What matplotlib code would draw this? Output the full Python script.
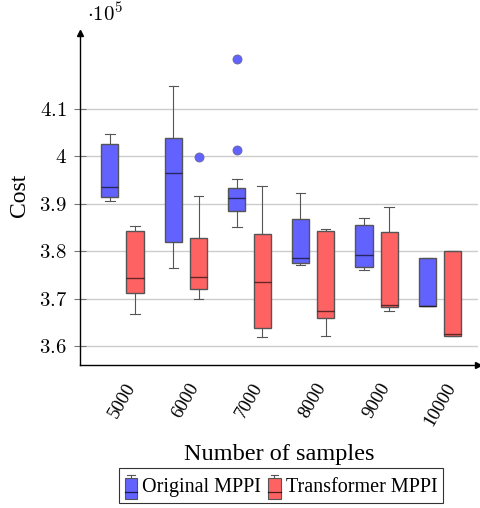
import matplotlib
matplotlib.use('Agg')
import matplotlib.pyplot as plt
import matplotlib.patches as mpatches
from matplotlib.lines import Line2D
from matplotlib.legend_handler import HandlerBase
from matplotlib.ticker import FuncFormatter
import numpy as np

# cost values in units of 1e5
samples = ['5000', '6000', '7000', '8000', '9000', '10000']

orig_lo = [3.905, 3.765, 3.851, 3.771, 3.761, 3.684]
orig_q1 = [3.914, 3.818, 3.885, 3.775, 3.767, 3.684]
orig_med = [3.935, 3.965, 3.911, 3.785, 3.791, 3.684]
orig_q3 = [4.025, 4.038, 3.933, 3.867, 3.855, 3.785]
orig_hi = [4.046, 4.147, 3.952, 3.923, 3.870, 3.785]
orig_fliers = [[], [], [4.012, 4.204], [], [], []]

trans_lo = [3.668, 3.698, 3.618, 3.622, 3.674, 3.621]
trans_q1 = [3.712, 3.721, 3.637, 3.658, 3.683, 3.621]
trans_med = [3.744, 3.745, 3.735, 3.674, 3.687, 3.625]
trans_q3 = [3.842, 3.827, 3.835, 3.843, 3.839, 3.801]
trans_hi = [3.853, 3.916, 3.936, 3.846, 3.893, 3.801]
trans_fliers = [[], [3.997], [], [], [], []]

BLUE = '#6262ff'
RED = '#ff6262'
EDGE = '#555555'

plt.rcParams['mathtext.fontset'] = 'cm'
plt.rcParams['font.family'] = 'Liberation Serif'


def make_stats(lo, q1, med, q3, hi, fliers):
    return [dict(whislo=a, q1=b, med=c, q3=d, whishi=e, fliers=f)
            for a, b, c, d, e, f in zip(lo, q1, med, q3, hi, fliers)]


def draw_boxes(ax, stats, positions, color):
    ax.bxp(stats, positions=positions, widths=0.268, capwidths=0.15,
           patch_artist=True, manage_ticks=False, zorder=3,
           boxprops=dict(facecolor=color, edgecolor=EDGE, linewidth=1.0),
           medianprops=dict(color='black', alpha=0.6, linewidth=1.0),
           whiskerprops=dict(color=EDGE, linewidth=0.8),
           capprops=dict(color=EDGE, linewidth=0.8),
           flierprops=dict(marker='o', markersize=6.5, markerfacecolor=BLUE,
                           markeredgecolor='#666699', markeredgewidth=0.6))


class BoxHandler(HandlerBase):
    # small boxplot glyph for the legend
    def create_artists(self, legend, orig_handle, xdescent, ydescent,
                       width, height, fontsize, trans):
        x0 = -xdescent
        y0 = -ydescent - 0.08 * height
        cx = x0 + width / 2
        top = y0 + 0.88 * height
        box = mpatches.Rectangle((x0, y0), width, top - y0,
                                 facecolor=orig_handle.get_facecolor(),
                                 edgecolor=EDGE, linewidth=0.8, transform=trans)
        whisk = Line2D([cx, cx], [top, y0 + height], color=EDGE,
                       linewidth=0.8, transform=trans)
        cap = Line2D([cx - width * 0.3, cx + width * 0.3],
                     [y0 + height] * 2, color=EDGE, linewidth=0.8,
                     transform=trans)
        med = Line2D([x0, x0 + width], [y0 + 0.3 * height] * 2, color='black',
                     alpha=0.7, linewidth=0.9, transform=trans)
        return [box, whisk, cap, med]


fig = plt.figure(figsize=(4.81, 5.08), dpi=100)
ax = fig.add_axes([80 / 481, 143 / 508, 398 / 481, 332 / 508])

pos = np.arange(len(samples))
draw_boxes(ax, make_stats(orig_lo, orig_q1, orig_med, orig_q3, orig_hi, orig_fliers),
           pos - 0.197, BLUE)
draw_boxes(ax, make_stats(trans_lo, trans_q1, trans_med, trans_q3, trans_hi, trans_fliers),
           pos + 0.197, RED)

ax.set_xlim(-0.669, 5.598)
ax.set_ylim(3.56, 4.259)
ax.set_yticks([3.6, 3.7, 3.8, 3.9, 4.0, 4.1])
ax.yaxis.set_major_formatter(FuncFormatter(lambda v, p: '$%g$' % round(v, 2)))
ax.yaxis.grid(True, color='#cccccc', linewidth=1.0, zorder=0)
ax.set_axisbelow(True)
ax.tick_params(axis='y', direction='inout', length=9, width=0.8,
               color='#777777', labelsize=15, pad=5)

ax.set_xticks(pos)
ax.set_xticklabels(samples, rotation=60, ha='center', va='top', fontsize=13.5)
ax.tick_params(axis='x', length=0, pad=11)

for s in ['top', 'right']:
    ax.spines[s].set_visible(False)
for s in ['left', 'bottom']:
    ax.spines[s].set_linewidth(1.0)
ax.plot(1, 0, '>', color='black', markersize=4, transform=ax.transAxes, clip_on=False)
ax.plot(0, 1, '^', color='black', markersize=4, transform=ax.transAxes, clip_on=False)

ax.set_xlabel('Number of samples', fontsize=17.5)
ax.xaxis.set_label_coords(0.5, -0.27)
ax.xaxis.label.set_va('center')
ax.set_ylabel('Cost', fontsize=17)
ax.yaxis.set_label_coords(-0.151, 0.51)
ax.yaxis.label.set_va('center')

fig.text(87 / 481, 1 - 15 / 508, r'$\cdot 10^5$', fontsize=15, ha='left', va='center')

handles = [mpatches.Patch(facecolor=BLUE), mpatches.Patch(facecolor=RED)]
leg = fig.legend(handles, ['Original MPPI', 'Transformer MPPI'],
                 handler_map={mpatches.Patch: BoxHandler()},
                 loc='center', bbox_to_anchor=(281 / 481, 1 - 485.5 / 508),
                 ncol=2, fontsize=14.5, frameon=True, fancybox=False,
                 edgecolor='black', handlelength=0.62, handleheight=1.45,
                 handletextpad=0.25, columnspacing=0.35, borderpad=0.3,
                 borderaxespad=0)
leg.get_frame().set_linewidth(0.8)

fig.savefig('out.png', dpi=100)
